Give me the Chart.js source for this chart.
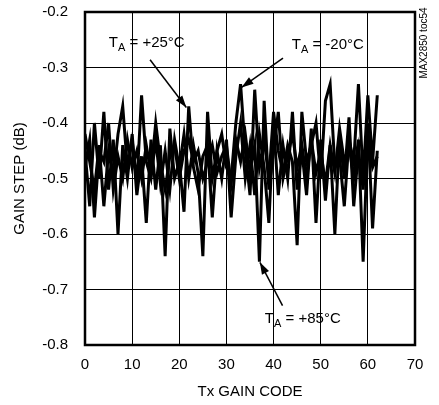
<!DOCTYPE html>
<html>
<head>
<meta charset="utf-8">
<script src="https://cdn.jsdelivr.net/npm/chart.js@4"></script>
<style>
html, body { margin: 0; padding: 0; background: #fff; }
</style>
</head>
<body>
<canvas id="gainChart" width="439" height="405"></canvas>
<script>
// Tx gain code (x) and gain step in dB for each temperature
const codes = [0, 1, 2, 3, 4, 5, 6, 7, 8, 9, 10, 11, 12, 13, 14, 15, 16, 17, 18, 19, 20,
    21, 22, 23, 24, 25, 26, 27, 28, 29, 30, 31, 32, 33, 34, 35, 36, 37, 38, 39, 40,
    41, 42, 43, 44, 45, 46, 47, 48, 49, 50, 51, 52, 53, 54, 55, 56, 57, 58, 59, 60, 61, 62];

const stepPlus25 = [-0.45, -0.55, -0.40, -0.50, -0.38, -0.52, -0.43, -0.60, -0.44, -0.50,
    -0.42, -0.53, -0.46, -0.58, -0.43, -0.52, -0.44, -0.64, -0.41, -0.50,
    -0.47, -0.56, -0.37, -0.48, -0.52, -0.46, -0.44, -0.57, -0.45, -0.50,
    -0.43, -0.57, -0.46, -0.40, -0.50, -0.44, -0.53, -0.42, -0.48, -0.58,
    -0.40, -0.53, -0.44, -0.50, -0.38, -0.52, -0.45, -0.53, -0.41, -0.58,
    -0.43, -0.54, -0.44, -0.60, -0.42, -0.50, -0.39, -0.55, -0.45, -0.52,
    -0.40, -0.59, -0.45];

const stepMinus20 = [-0.42, -0.47, -0.52, -0.44, -0.55, -0.45, -0.50, -0.42, -0.37, -0.48,
    -0.43, -0.51, -0.35, -0.47, -0.50, -0.43, -0.51, -0.45, -0.52, -0.43,
    -0.48, -0.42, -0.50, -0.44, -0.49, -0.64, -0.38, -0.50, -0.45, -0.42,
    -0.48, -0.50, -0.40, -0.33, -0.45, -0.53, -0.34, -0.48, -0.43, -0.50,
    -0.38, -0.45, -0.49, -0.44, -0.47, -0.62, -0.38, -0.47, -0.44, -0.40,
    -0.50, -0.36, -0.33, -0.48, -0.46, -0.55, -0.43, -0.47, -0.33, -0.50,
    -0.35, -0.47, -0.35];

const stepPlus85 = [-0.48, -0.43, -0.57, -0.45, -0.47, -0.40, -0.52, -0.46, -0.50, -0.43,
    -0.48, -0.45, -0.50, -0.44, -0.49, -0.40, -0.47, -0.52, -0.46, -0.44,
    -0.50, -0.45, -0.43, -0.47, -0.45, -0.50, -0.47, -0.44, -0.49, -0.46,
    -0.44, -0.51, -0.43, -0.47, -0.42, -0.49, -0.44, -0.65, -0.36, -0.52,
    -0.45, -0.38, -0.50, -0.46, -0.42, -0.48, -0.44, -0.50, -0.43, -0.49,
    -0.45, -0.51, -0.44, -0.49, -0.41, -0.47, -0.44, -0.50, -0.43, -0.65,
    -0.42, -0.48, -0.46];

const xTicks = [0, 10, 20, 30, 40, 50, 60, 70];
const yTicks = [-0.8, -0.7, -0.6, -0.5, -0.4, -0.3, -0.2];

// label text, label position, arrow tail, arrow tip (data units)
const callouts = [
    { temp: ' = +25°C', at: [13.1, -0.255], from: [13.8, -0.286], to: [21.5, -0.372] },
    { temp: ' = -20°C', at: [51.5, -0.259], from: [42.0, -0.283], to: [33.2, -0.336] },
    { temp: ' = +85°C', at: [46.2, -0.753], from: [41.9, -0.729], to: [37.1, -0.651] }
];

const FONT = '"Liberation Sans", Arial, sans-serif';

function toPoints(vals) {
    return codes.map((c, i) => ({ x: c, y: vals[i] }));
}

function lineSet(label, vals) {
    return {
        label: label,
        data: toPoints(vals),
        borderColor: '#000',
        borderWidth: 3,
        pointRadius: 0,
        tension: 0,
        fill: false
    };
}

// frame, callouts and the side tag
const decorations = {
    id: 'decorations',
    afterDraw(chart) {
        const ctx = chart.ctx;
        const a = chart.chartArea;
        const xs = chart.scales.x, ys = chart.scales.y;

        ctx.save();
        ctx.strokeStyle = '#000';
        ctx.lineWidth = 2.5;
        ctx.strokeRect(a.left, a.top, a.right - a.left, a.bottom - a.top);

        callouts.forEach(c => {
            const x1 = xs.getPixelForValue(c.from[0]), y1 = ys.getPixelForValue(c.from[1]);
            const x2 = xs.getPixelForValue(c.to[0]), y2 = ys.getPixelForValue(c.to[1]);
            ctx.lineWidth = 1.5;
            ctx.beginPath();
            ctx.moveTo(x1, y1);
            ctx.lineTo(x2, y2);
            ctx.stroke();
            const ang = Math.atan2(y2 - y1, x2 - x1);
            ctx.beginPath();
            ctx.moveTo(x2, y2);
            ctx.lineTo(x2 - 12 * Math.cos(ang) + 4 * Math.sin(ang), y2 - 12 * Math.sin(ang) - 4 * Math.cos(ang));
            ctx.lineTo(x2 - 12 * Math.cos(ang) - 4 * Math.sin(ang), y2 - 12 * Math.sin(ang) + 4 * Math.cos(ang));
            ctx.closePath();
            ctx.fillStyle = '#000';
            ctx.fill();

            // T with subscript A
            ctx.textBaseline = 'middle';
            ctx.textAlign = 'left';
            ctx.font = '15px ' + FONT;
            const wT = ctx.measureText('T').width;
            ctx.font = '11px ' + FONT;
            const wA = ctx.measureText('A').width;
            ctx.font = '15px ' + FONT;
            const wR = ctx.measureText(c.temp).width;
            const cx = xs.getPixelForValue(c.at[0]), cy = ys.getPixelForValue(c.at[1]);
            let px = cx - (wT + wA + wR) / 2;
            ctx.fillText('T', px, cy);
            px += wT;
            ctx.font = '11px ' + FONT;
            ctx.fillText('A', px, cy + 5);
            px += wA;
            ctx.font = '15px ' + FONT;
            ctx.fillText(c.temp, px, cy);
        });

        ctx.translate(a.right + 9, a.top + 31);
        ctx.rotate(-Math.PI / 2);
        ctx.font = '10px ' + FONT;
        ctx.textAlign = 'center';
        ctx.textBaseline = 'middle';
        ctx.fillText('MAX2850 toc54', 0, 0);
        ctx.restore();
    }
};

new Chart(document.getElementById('gainChart'), {
    type: 'line',
    data: {
        datasets: [
            lineSet('TA = +25°C', stepPlus25),
            lineSet('TA = -20°C', stepMinus20),
            lineSet('TA = +85°C', stepPlus85)
        ]
    },
    options: {
        responsive: false,
        animation: false,
        layout: { padding: { left: 0, right: 24, top: 12, bottom: 0 } },
        plugins: {
            legend: { display: false },
            tooltip: { enabled: false }
        },
        scales: {
            x: {
                type: 'linear',
                min: xTicks[0],
                max: xTicks[xTicks.length - 1],
                afterBuildTicks: s => { s.ticks = xTicks.map(v => ({ value: v })); },
                afterFit: s => { s.height = 60; s.paddingLeft = 0; s.paddingRight = 0; },
                ticks: { color: '#000', font: { family: FONT, size: 15 }, padding: 11, maxRotation: 0 },
                grid: { color: '#000', lineWidth: 1, drawTicks: false },
                border: { display: false },
                title: {
                    display: true, text: 'Tx GAIN CODE', color: '#000',
                    font: { family: FONT, size: 15 }, padding: { top: 0, bottom: 4 }
                }
            },
            y: {
                type: 'linear',
                min: yTicks[0],
                max: yTicks[yTicks.length - 1],
                afterBuildTicks: s => { s.ticks = yTicks.map(v => ({ value: v })); },
                afterFit: s => { s.width = 85; s.paddingTop = 0; s.paddingBottom = 0; },
                ticks: {
                    color: '#000', font: { family: FONT, size: 15 }, padding: 17,
                    callback: v => v.toFixed(1)
                },
                grid: { color: '#000', lineWidth: 1, drawTicks: false },
                border: { display: false },
                title: {
                    display: true, text: 'GAIN STEP (dB)', color: '#000',
                    font: { family: FONT, size: 15 }, padding: { top: 11, bottom: 0 }
                }
            }
        }
    },
    plugins: [decorations]
});
</script>
</body>
</html>
